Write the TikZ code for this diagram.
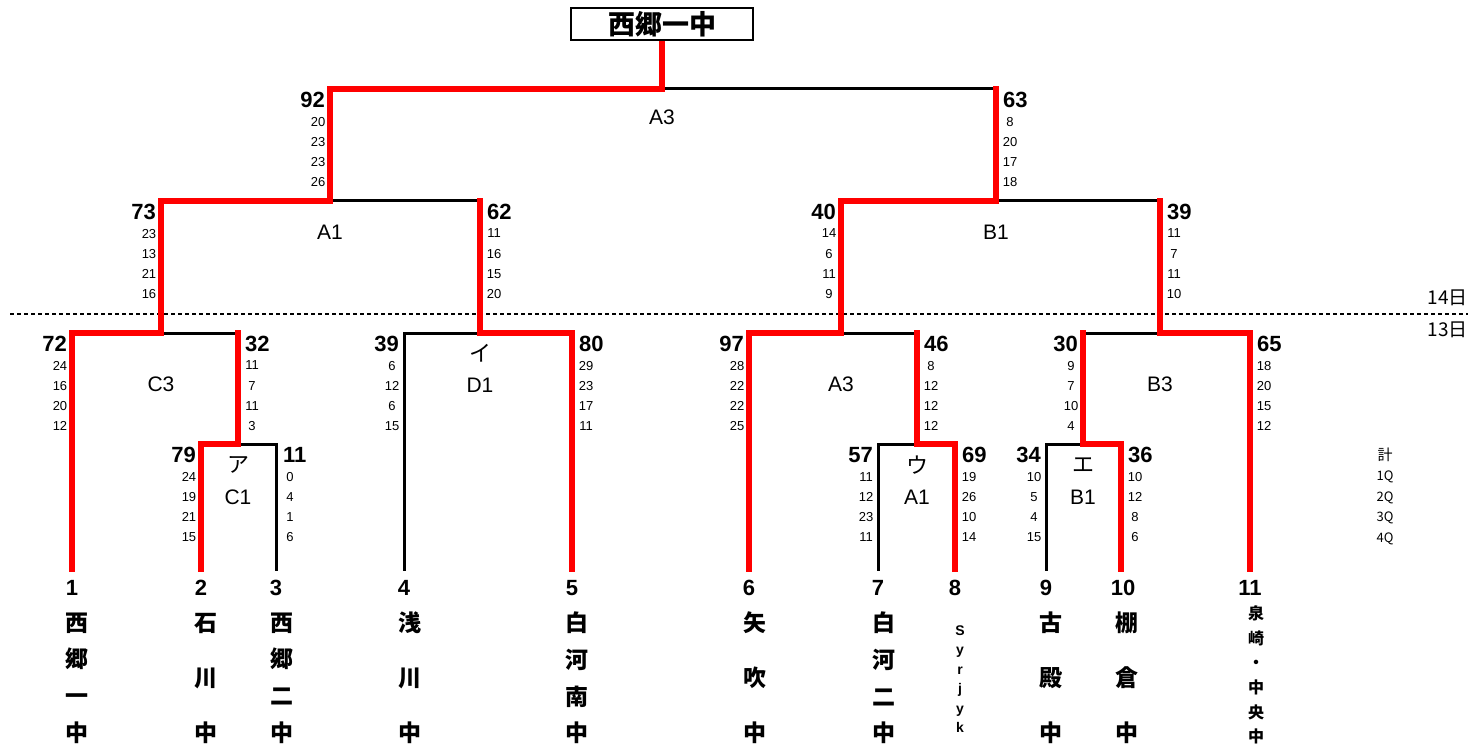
\documentclass[tikz,border=0pt]{standalone}
\usepackage{fontspec}
\setmainfont{Liberation Sans}
\newfontfamily\jp{Noto Sans CJK JP}
\definecolor{wred}{RGB}{255,0,0}
\tikzset{
  blk/.style={line width=3pt, draw=black, line cap=rect},
  win/.style={line width=6.5pt, draw=wred, line cap=rect},
  big/.style={font=\fontsize{22}{22}\selectfont\bfseries, inner sep=0pt},
  qtr/.style={font=\fontsize{13}{20.3}\selectfont, inner sep=0pt, align=center},
  mlab/.style={font=\fontsize{21}{21}\selectfont, inner sep=0pt},
  kana/.style={font=\jp\fontsize{22}{22}\selectfont, inner sep=0pt},
  tnum/.style={font=\fontsize{22}{22}\selectfont\bfseries, inner sep=0pt},
  tname/.style={font=\jp\bfseries\fontsize{23}{36.7}\selectfont, inner sep=0pt, align=center},
  tname3/.style={font=\jp\bfseries\fontsize{23}{55}\selectfont, inner sep=0pt, align=center},
  tnamelat/.style={font=\bfseries\fontsize{14}{19.5}\selectfont, inner sep=0pt, align=center},
  tnamesm/.style={font=\jp\bfseries\fontsize{16}{24.6}\selectfont, inner sep=0pt, align=center},
  daylab/.style={font=\jp\fontsize{19}{19}\selectfont, inner sep=0pt, anchor=east},
}
\newcommand\scoreleft[5]{%
  \node[big,anchor=east] (#1) at (#2-5,#3+11) {#4};
  \node[qtr] (#1q) at (#2-12,#3+63) {#5};}
\newcommand\scoreright[5]{%
  \node[big,anchor=west] (#1) at (#2+7,#3+11) {#4};
  \node[qtr] (#1q) at (#2+14,#3+63) {#5};}
\begin{document}
\begin{tikzpicture}[x=1pt,y=-1pt]
\useasboundingbox (0,0) rectangle (1481,746);
% levels
\def\La{89}\def\Lb{201}\def\Lc{333}\def\Ld{444}\def\Lz{569}
% title
\node[draw, line width=2.5pt, minimum width=182pt, minimum height=32pt, inner sep=0pt,
      font=\jp\bfseries\fontsize{27}{27}\selectfont] (title) at (662,24) {西郷一中};
% coordinates
\coordinate (j1) at (662,\La);
\coordinate (f1) at (330,\La); \coordinate (f2) at (330,\Lb);
\coordinate (p1) at (996,\La); \coordinate (p2) at (996,\Lb);
\coordinate (b2) at (161,\Lb); \coordinate (b3) at (161,\Lc);
\coordinate (h2) at (480,\Lb); \coordinate (h3) at (480,\Lc);
\coordinate (l2) at (841,\Lb); \coordinate (l3) at (841,\Lc);
\coordinate (t2) at (1160,\Lb); \coordinate (t3) at (1160,\Lc);
\coordinate (a3) at (72,\Lc); \coordinate (aB) at (72,\Lz);
\coordinate (d3) at (238,\Lc); \coordinate (d4) at (238,\Ld);
\coordinate (c4) at (201,\Ld); \coordinate (cB) at (201,\Lz);
\coordinate (e4) at (276,\Ld); \coordinate (eB) at (276,\Lz);
\coordinate (g3) at (404,\Lc); \coordinate (gB) at (404,\Lz);
\coordinate (i3) at (572,\Lc); \coordinate (iB) at (572,\Lz);
\coordinate (k3) at (749,\Lc); \coordinate (kB) at (749,\Lz);
\coordinate (n3) at (917,\Lc); \coordinate (n4) at (917,\Ld);
\coordinate (m4) at (878,\Ld); \coordinate (mB) at (878,\Lz);
\coordinate (o4) at (955,\Ld); \coordinate (oB) at (955,\Lz);
\coordinate (r3) at (1083,\Lc); \coordinate (r4) at (1083,\Ld);
\coordinate (q4) at (1046,\Ld); \coordinate (qB) at (1046,\Lz);
\coordinate (s4) at (1121,\Ld); \coordinate (sB) at (1121,\Lz);
\coordinate (u3) at (1250,\Lc); \coordinate (uB) at (1250,\Lz);
% day separator
\coordinate (dsL) at (10,314); \coordinate (dsR) at (1468,314);
\draw[line width=2pt, dash pattern=on 4pt off 3pt] (dsL) -- (dsR);
\node[daylab] (d14) at (1468,298) {14日};
\node[daylab] (d13) at (1468,330) {13日};
% black (losing) lines
\draw[blk] (j1) -- (p1);
\draw[blk] (f2) -- (h2);
\draw[blk] (b3) -- (d3);
\draw[blk] (d4) -- (e4) -- (eB);
\draw[blk] (gB) -- (g3) -- (h3);
\draw[blk] (p2) -- (t2);
\draw[blk] (l3) -- (n3);
\draw[blk] (mB) -- (m4) -- (n4);
\draw[blk] (r3) -- (t3);
\draw[blk] (qB) -- (q4) -- (r4);
% red (winning) lines
\draw[win, line cap=butt] (title.south) -- (j1);
\draw[win] (j1) -- (f1) -- (f2) -- (b2) -- (b3) -- (a3) -- (aB);
\draw[win] (p1) -- (p2) -- (l2) -- (l3) -- (k3) -- (kB);
\draw[win] (h2) -- (h3) -- (i3) -- (iB);
\draw[win] (d3) -- (d4) -- (c4) -- (cB);
\draw[win] (t2) -- (t3) -- (u3) -- (uB);
\draw[win] (n3) -- (n4) -- (o4) -- (oB);
\draw[win] (r3) -- (r4) -- (s4) -- (sB);
% scores
\scoreleft{s92}{330}{\La}{92}{20\\23\\23\\26}
\scoreright{s63}{996}{\La}{63}{8\\20\\17\\18}
\scoreleft{s73}{161}{\Lb}{73}{23\\13\\21\\16}
\scoreright{s62}{480}{\Lb}{62}{11\\16\\15\\20}
\scoreleft{s40}{841}{\Lb}{40}{14\\6\\11\\9}
\scoreright{s39b}{1160}{\Lb}{39}{11\\7\\11\\10}
\scoreleft{s72}{72}{\Lc}{72}{24\\16\\20\\12}
\scoreright{s32}{238}{\Lc}{32}{11\\7\\11\\3}
\scoreleft{s39a}{404}{\Lc}{39}{6\\12\\6\\15}
\scoreright{s80}{572}{\Lc}{80}{29\\23\\17\\11}
\scoreleft{s97}{749}{\Lc}{97}{28\\22\\22\\25}
\scoreright{s46}{917}{\Lc}{46}{8\\12\\12\\12}
\scoreleft{s30}{1083}{\Lc}{30}{9\\7\\10\\4}
\scoreright{s65}{1250}{\Lc}{65}{18\\20\\15\\12}
\scoreleft{s79}{201}{\Ld}{79}{24\\19\\21\\15}
\scoreright{s11}{276}{\Ld}{11}{0\\4\\1\\6}
\scoreleft{s57}{878}{\Ld}{57}{11\\12\\23\\11}
\scoreright{s69}{955}{\Ld}{69}{19\\26\\10\\14}
\scoreleft{s34}{1046}{\Ld}{34}{10\\5\\4\\15}
\scoreright{s36}{1121}{\Ld}{36}{10\\12\\8\\6}
% match labels
\node[mlab] (mA3t) at (662,117) {A3};
\node[mlab] (mA1t) at (330,232) {A1};
\node[mlab] (mB1t) at (996,232) {B1};
\node[mlab] (mC3) at (161,384) {C3};
\node[kana] (ki) at (480,353) {イ};
\node[mlab] (mD1) at (480,385) {D1};
\node[kana] (ka) at (238,465) {ア};
\node[mlab] (mC1) at (238,497) {C1};
\node[mlab] (mA3) at (841,384) {A3};
\node[kana] (ku) at (917,465) {ウ};
\node[mlab] (mA1) at (917,497) {A1};
\node[mlab] (mB3) at (1160,384) {B3};
\node[kana] (ke) at (1083,465) {エ};
\node[mlab] (mB1) at (1083,497) {B1};
% totals legend
\node[font=\jp\fontsize{15}{20.5}\selectfont, inner sep=0pt, align=center] (legend) at (1385,496)
  {計\\{\fontsize{13}{20.5}\selectfont 1Q}\\{\fontsize{13}{20.5}\selectfont 2Q}\\{\fontsize{13}{20.5}\selectfont 3Q}\\{\fontsize{13}{20.5}\selectfont 4Q}};
% team numbers
\node[tnum] (n1) at (72,588) {1};
\node[tnum] (n2) at (201,588) {2};
\node[tnum] (n3n) at (276,588) {3};
\node[tnum] (n4n) at (404,588) {4};
\node[tnum] (n5) at (572,588) {5};
\node[tnum] (n6) at (749,588) {6};
\node[tnum] (n7) at (878,588) {7};
\node[tnum] (n8) at (955,588) {8};
\node[tnum] (n9) at (1046,588) {9};
\node[tnum] (n10) at (1123,588) {10};
\node[tnum] (n11) at (1250,588) {11};
% team names
\node[tname] (t1) at (77,678) {西\\郷\\一\\中};
\node[tname3] (t2n) at (206,678) {石\\川\\中};
\node[tname] (t3n) at (282,678) {西\\郷\\二\\中};
\node[tname3] (t4) at (410,678) {浅\\川\\中};
\node[tname] (t5) at (577,678) {白\\河\\南\\中};
\node[tname3] (t6) at (755,678) {矢\\吹\\中};
\node[tname] (t7) at (884,678) {白\\河\\二\\中};
\node[tnamelat] (t8) at (960,679) {S\\y\\r\\j\\y\\k};
\node[tname3] (t9) at (1051,678) {古\\殿\\中};
\node[tname3] (t10) at (1127,678) {棚\\倉\\中};
\node[tnamesm] (t11) at (1256,675) {泉\\崎\\・\\中\\央\\中};
\end{tikzpicture}
\end{document}
